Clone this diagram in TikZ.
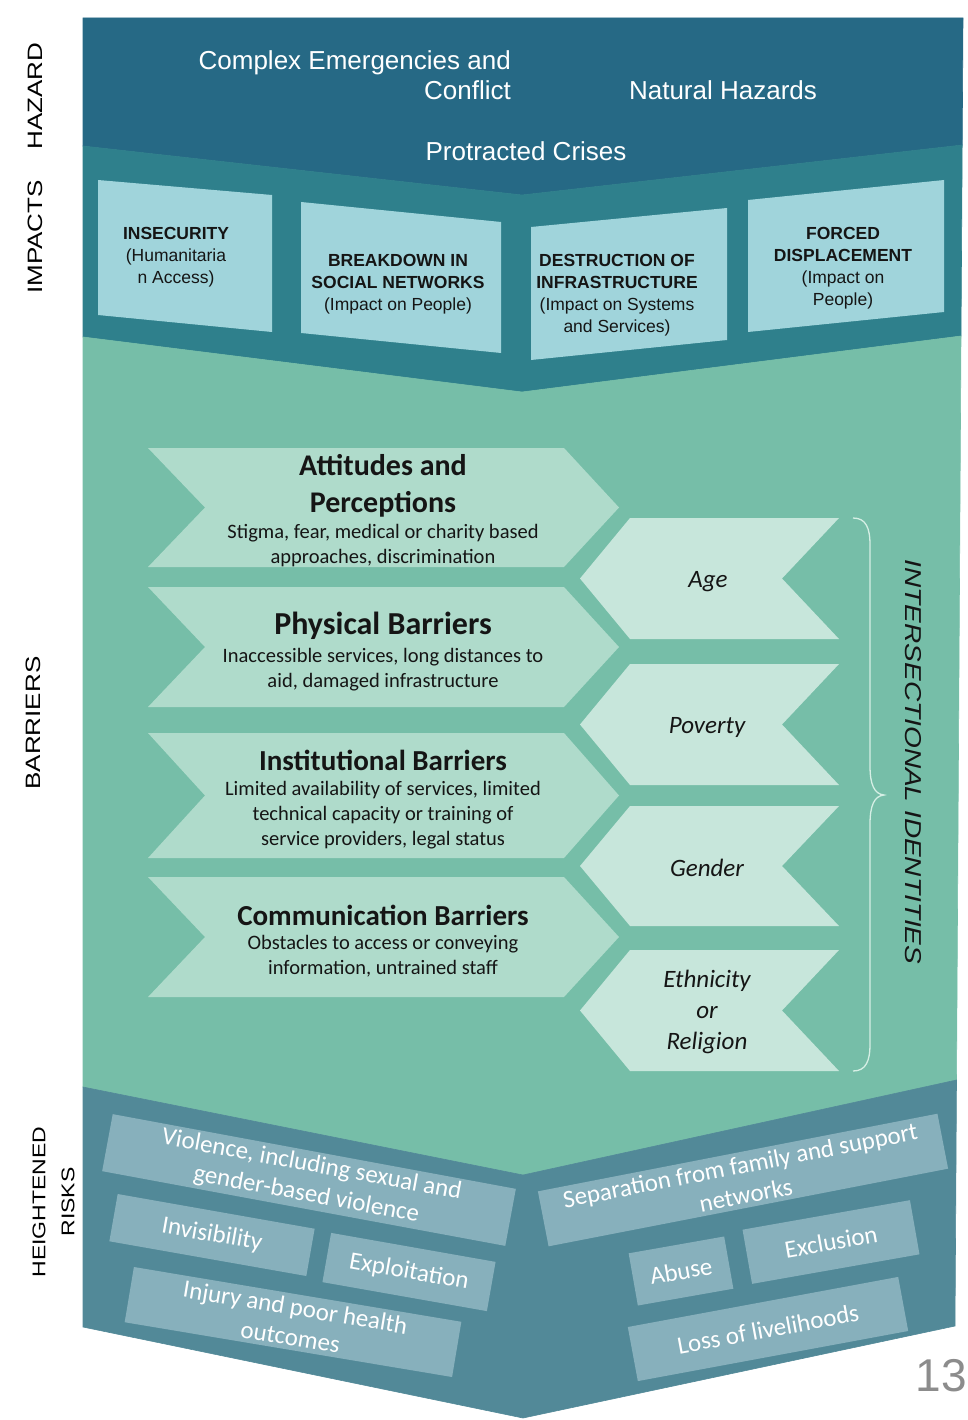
\documentclass[tikz,border=0pt]{standalone}
\usepackage{fontspec}
\setmainfont{Liberation Sans}
\newfontfamily\carl{Carlito}
\definecolor{hazardc}{HTML}{266985}
\definecolor{impactc}{HTML}{2F808C}
\definecolor{impboxc}{HTML}{A0D4DB}
\definecolor{barrierc}{HTML}{76BEA8}
\definecolor{barboxc}{HTML}{AFDBCB}
\definecolor{idboxc}{HTML}{C7E6DB}
\definecolor{riskc}{HTML}{528998}
\definecolor{riskboxc}{HTML}{87B0BC}
\definecolor{bracec}{HTML}{D6EFE5}
\definecolor{inkc}{HTML}{151515}
\definecolor{pagenoc}{HTML}{8C8C8C}

% right-pointing barrier chevron: top y, bottom y
\newcommand{\barrierchev}[2]{%
  \fill[barboxc] (148,#1) -- (564,#1) -- (619,{(#1+#2)/2}) -- (564,#2)
    -- (148,#2) -- (205,{(#1+#2)/2}) -- cycle;}
% left-pointing identity chevron: top y, bottom y
\newcommand{\identchev}[2]{%
  \fill[idboxc] (630,#1) -- (839,#1) -- (782,{(#1+#2)/2}) -- (839,#2)
    -- (630,#2) -- (580,{(#1+#2)/2}) -- cycle;}

\begin{document}
\begin{tikzpicture}[x=1pt,y=-1pt,
  hztext/.style={text=white, font=\fontsize{26}{30}\selectfont, inner sep=0pt},
  sidelabel/.style={font=\fontsize{26}{30}\selectfont, rotate=90, yscale=0.8, align=center, inner sep=0pt},
  imptext/.style={font=\fontsize{17.5}{22}\selectfont, align=center, inner sep=0pt, text=inkc},
  bartitle/.style={font=\carl\bfseries\fontsize{30}{37}\selectfont, align=center, inner sep=0pt, text=inkc},
  bardesc/.style={font=\carl\fontsize{20.5}{25}\selectfont, align=center, inner sep=0pt, text=inkc},
  idtext/.style={font=\carl\itshape\fontsize{25}{31}\selectfont, align=center, inner sep=0pt, text=inkc},
  riskbox/.style={fill=riskboxc, text=white, font=\carl\fontsize{25}{30}\selectfont,
    align=center, inner sep=0pt},
  band/.style={line width=0.6pt, line join=miter}
]
\useasboundingbox (0,0) rectangle (967,1420);

% ---- stacked bands ----
\path[band, fill=hazardc, draw=hazardc] (83,18) -- (963,18) -- (962.2,145) -- (522,195) -- (83,146) -- cycle;
\path[band, fill=impactc, draw=impactc] (83,146) -- (522,195) -- (962.2,145) -- (961,336) -- (522,392) -- (83,337) -- cycle;
\path[band, fill=barrierc, draw=barrierc] (83,337) -- (522,392) -- (961,336) -- (956.5,1080) -- (523,1175) -- (83,1087) -- cycle;
\path[band, fill=riskc, draw=riskc] (83,1087) -- (523,1175) -- (956.5,1080) -- (955,1326) -- (523,1418) -- (83,1327) -- cycle;

% ---- side labels ----
\node[sidelabel] (lhazard) at (35,96) {HAZARD};
\node[sidelabel] (limpacts) at (35,237) {IMPACTS};
\node[sidelabel] (lbarriers) at (33,723) {BARRIERS};
\node[sidelabel, font=\fontsize{23}{27}\selectfont] (lheight) at (39,1202) {HEIGHTENED};
\node[sidelabel, font=\fontsize{23}{27}\selectfont] (lrisks) at (68,1202) {RISKS};

% ---- hazards ----
\node[hztext, align=right, anchor=east] (complex) at (511,75) {Complex Emergencies and\\Conflict};
\node[hztext] (natural) at (723,90) {Natural Hazards};
\node[hztext] (protracted) at (526,151) {Protracted Crises};

% ---- impacts ----
\fill[impboxc] (98,180) -- (272,195) -- (272,332) -- (98,315) -- cycle;
\fill[impboxc] (301,202) -- (501,222) -- (501,353) -- (301,333) -- cycle;
\fill[impboxc] (531,227) -- (727,208) -- (727,340) -- (531,360) -- cycle;
\fill[impboxc] (748,200) -- (944,180) -- (944,312) -- (748,332) -- cycle;
\node[imptext] (insecurity) at (176,257) {\textbf{INSECURITY}\\(Humanitaria\\n Access)};
\node[imptext] (breakdown) at (398,284) {\textbf{BREAKDOWN IN}\\\textbf{SOCIAL NETWORKS}\\(Impact on People)};
\node[imptext] (destruction) at (617,295) {\textbf{DESTRUCTION OF}\\\textbf{INFRASTRUCTURE}\\(Impact on Systems\\and Services)};
\node[imptext] (forced) at (843,268) {\textbf{FORCED}\\\textbf{DISPLACEMENT}\\(Impact on\\People)};

% ---- barriers ----
\barrierchev{448}{567}
\barrierchev{587}{707}
\barrierchev{733}{858}
\barrierchev{877}{997}

\node[bartitle] (attT) at (383,486) {Attitudes and\\Perceptions};
\node[bardesc] (attD) at (383,546) {Stigma, fear, medical or charity based\\approaches, discrimination};
\node[bartitle, font=\carl\bfseries\fontsize{32}{37}\selectfont] (phyT) at (383,626) {Physical Barriers};
\node[bardesc] (phyD) at (383,670) {Inaccessible services, long distances to\\aid, damaged infrastructure};
\node[bartitle, font=\carl\bfseries\fontsize{29}{35}\selectfont] (insT) at (383,760) {Institutional Barriers};
\node[bardesc] (insD) at (383,815) {Limited availability of services, limited\\technical capacity or training of\\service providers, legal status};
\node[bartitle, font=\carl\bfseries\fontsize{29}{35}\selectfont] (comT) at (383,915) {Communication Barriers};
\node[bardesc] (comD) at (383,956) {Obstacles to access or conveying\\information, untrained staff};

% ---- intersectional identities ----
\identchev{518}{639}
\identchev{664}{785}
\identchev{806}{926}
\identchev{950}{1071}
\node[idtext] (age) at (708,582) {Age};
\node[idtext] (poverty) at (707,727) {Poverty};
\node[idtext] (gender) at (707,868) {Gender};
\node[idtext] (ethnic) at (707,1012) {Ethnicity\\or\\Religion};

\draw[bracec, line width=1.3pt] (853,518) .. controls (866,518) and (870,528) .. (870,545)
  -- (870,766) .. controls (870,784) and (874,794) .. (884,795)
  .. controls (874,796) and (870,806) .. (870,824)
  -- (870,1044) .. controls (870,1061) and (866,1071) .. (853,1071);
\node[font=\itshape\fontsize{28}{32}\selectfont, rotate=-90, yscale=0.82, inner sep=0pt, text=inkc]
  (identities) at (913,762) {INTERSECTIONAL IDENTITIES};

% ---- heightened risks ----
\node[riskbox, rotate=-10.5, minimum width=410pt, minimum height=58pt] (violence) at (309,1180) {Violence, including sexual and\\gender-based violence};
\node[riskbox, rotate=-10, minimum width=200pt, minimum height=48pt] (invis) at (212,1235) {Invisibility};
\node[riskbox, rotate=-10, minimum width=167pt, minimum height=50pt] (exploit) at (409,1272) {Exploitation};
\node[riskbox, rotate=-9.5, minimum width=332pt, minimum height=56pt] (injury) at (293,1322) {Injury and poor health\\outcomes};
\node[riskbox, rotate=11, minimum width=407pt, minimum height=56pt] (separation) at (743,1180) {Separation from family and support\\networks};
\node[riskbox, rotate=10, minimum width=97pt, minimum height=53pt] (abuse) at (681,1271) {Abuse};
\node[riskbox, rotate=10, minimum width=170pt, minimum height=55pt] (exclusion) at (831,1242) {Exclusion};
\node[riskbox, rotate=10.5, minimum width=275pt, minimum height=55pt] (livelihood) at (768,1329) {Loss of livelihoods};

% ---- page number ----
\node[font=\fontsize{46}{50}\selectfont, text=pagenoc, inner sep=0pt] (pageno) at (941,1376) {13};
\end{tikzpicture}
\end{document}
